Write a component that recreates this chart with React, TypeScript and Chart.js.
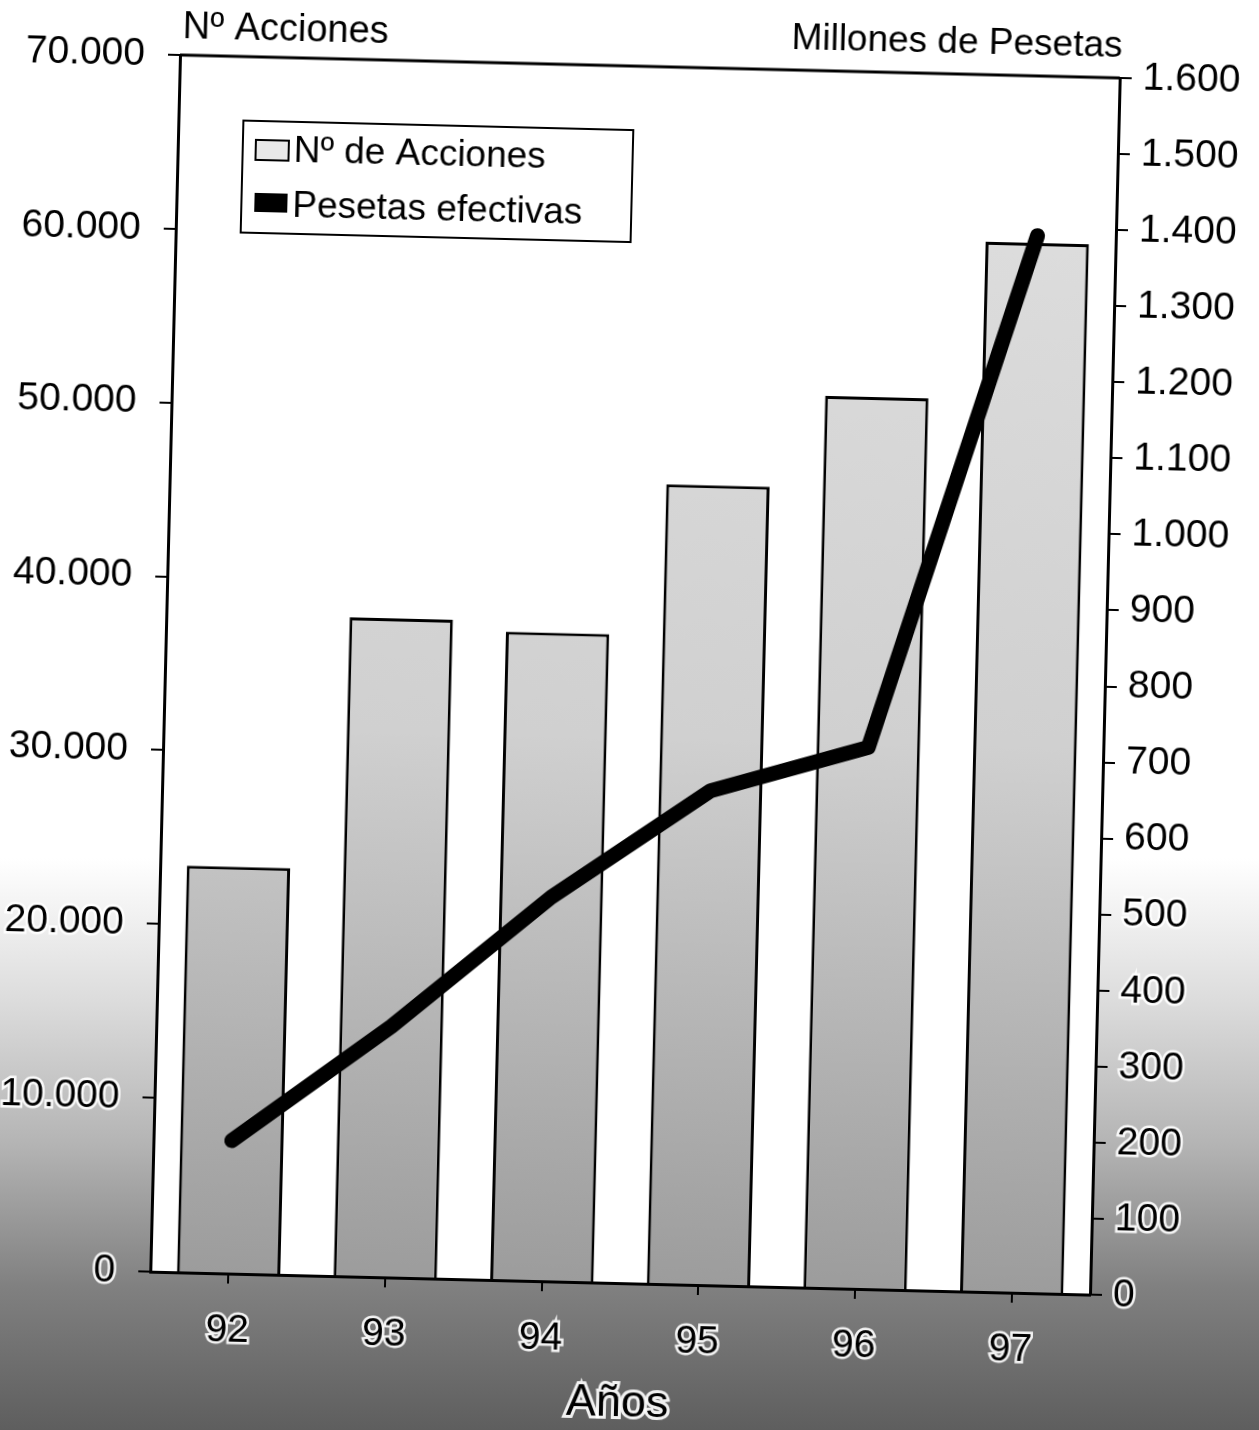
import React, { useEffect, useRef } from "react";
import { Chart, registerables } from "chart.js";

Chart.register(...registerables);

const years = ["92", "93", "94", "95", "96", "97"];
const numAcciones = [23400, 37900, 37300, 46000, 51300, 60400];
const pesetasEfectivas = [175, 330, 505, 650, 712, 1390];
const leftMax = 70000;
const leftStep = 10000;
const rightMax = 1600;
const rightStep = 100;

const leftTitle = "Nº Acciones";
const rightTitle = "Millones de Pesetas";
const xTitle = "Años";
const legendLabels = ["Nº de Acciones", "Pesetas efectivas"];

const FONT = '"Liberation Sans", Arial, Helvetica, sans-serif';

function fmt(v: number): string {
  return String(Math.round(v)).replace(/\B(?=(\d{3})+(?!\d))/g, ".");
}

const decorPlugin = {
  id: "decor",
  beforeDraw(chart: any) {
    const { ctx, chartArea: ca } = chart;
    ctx.save();
    ctx.fillStyle = "#ffffff";
    ctx.fillRect(ca.left, ca.top, ca.right - ca.left, ca.bottom - ca.top);
    ctx.restore();
  },
  afterDraw(chart: any) {
    const { ctx, chartArea: ca } = chart;
    ctx.save();
    // frame top edge
    ctx.strokeStyle = "#000";
    ctx.lineWidth = 3;
    ctx.beginPath();
    ctx.moveTo(ca.left, ca.top);
    ctx.lineTo(ca.right, ca.top);
    ctx.stroke();

    // axis titles
    ctx.fillStyle = "#000";
    ctx.font = `38px ${FONT}`;
    ctx.textBaseline = "middle";
    ctx.textAlign = "left";
    ctx.fillText(leftTitle, 182, 28);
    ctx.font = `37px ${FONT}`;
    ctx.textAlign = "right";
    ctx.fillText(rightTitle, 1122, 24);

    ctx.textAlign = "center";
    ctx.font = `45px ${FONT}`;
    ctx.lineWidth = 6;
    ctx.strokeStyle = "rgba(255,255,255,0.9)";
    ctx.strokeText(xTitle, (ca.left + ca.right) / 2, 1393);
    ctx.fillText(xTitle, (ca.left + ca.right) / 2, 1393);

    // legend
    const bx = 245, by = 119, bw = 390, bh = 112;
    ctx.fillStyle = "#fff";
    ctx.fillRect(bx, by, bw, bh);
    ctx.lineWidth = 2;
    ctx.strokeStyle = "#000";
    ctx.strokeRect(bx, by, bw, bh);

    ctx.fillStyle = "#e8e8e8";
    ctx.fillRect(258, 138, 33, 20);
    ctx.lineWidth = 2;
    ctx.strokeRect(258, 138, 33, 20);
    ctx.fillStyle = "#000";
    ctx.fillRect(258, 191, 33, 19);

    ctx.font = `37px ${FONT}`;
    ctx.textAlign = "left";
    ctx.textBaseline = "middle";
    ctx.fillText(legendLabels[0], 296, 149);
    ctx.fillText(legendLabels[1], 296, 204);
    ctx.restore();
  },
};

export default function App() {
  const ref = useRef<HTMLCanvasElement | null>(null);

  useEffect(() => {
    if (!ref.current) return;
    const chart = new Chart(ref.current, {
      type: "bar",
      data: {
        labels: years,
        datasets: [
          {
            type: "line",
            label: legendLabels[1],
            data: pesetasEfectivas,
            yAxisID: "y1",
            borderColor: "#000",
            backgroundColor: "#000",
            borderWidth: 15,
            pointRadius: 0,
            borderCapStyle: "round",
            borderJoinStyle: "round",
            tension: 0,
            order: 0,
          } as any,
          {
            type: "bar",
            label: legendLabels[0],
            data: numAcciones,
            yAxisID: "y",
            backgroundColor: (c: any) => {
              const ch = c.chart;
              const ca = ch.chartArea;
              if (!ca) return "#d0d0d0";
              const g = ch.ctx.createLinearGradient(0, ca.top, 0, ca.bottom);
              g.addColorStop(0, "#e0e0e0");
              g.addColorStop(0.55, "#d0d0d0");
              g.addColorStop(1, "#9c9c9c");
              return g;
            },
            borderColor: "#000",
            borderWidth: 3,
            borderSkipped: "bottom",
            barPercentage: 0.66,
            categoryPercentage: 1,
            order: 1,
          } as any,
        ],
      },
      options: {
        animation: false,
        responsive: false,
        devicePixelRatio: 1,
        layout: { padding: { top: 55, left: 0, right: 0, bottom: 0 } },
        plugins: {
          legend: { display: false },
          tooltip: { enabled: false },
          title: { display: false },
        },
        scales: {
          x: {
            type: "category",
            offset: true,
            grid: {
              offset: false,
              drawOnChartArea: false,
              drawTicks: true,
              tickLength: 10,
              color: "#000",
              lineWidth: 2,
            },
            border: { display: true, color: "#000", width: 3 },
            ticks: {
              color: "#000",
              font: { family: FONT, size: 39 },
              padding: 24,
              textStrokeColor: "rgba(255,255,255,0.9)",
              textStrokeWidth: 5,
            } as any,
            afterFit: (s: any) => {
              s.height = 158;
            },
          },
          y: {
            type: "linear",
            position: "left",
            min: 0,
            max: leftMax,
            grid: {
              drawOnChartArea: false,
              drawTicks: true,
              tickLength: 12,
              color: "#000",
              lineWidth: 2,
            },
            border: { display: true, color: "#000", width: 3 },
            ticks: {
              stepSize: leftStep,
              color: "#000",
              font: { family: FONT, size: 39 },
              padding: 23,
              callback: (v: any) => fmt(Number(v)),
              textStrokeColor: "rgba(255,255,255,0.9)",
              textStrokeWidth: 5,
            } as any,
            afterFit: (s: any) => {
              s.width = 180;
            },
          },
          y1: {
            type: "linear",
            position: "right",
            min: 0,
            max: rightMax,
            grid: {
              drawOnChartArea: false,
              drawTicks: true,
              tickLength: 12,
              color: "#000",
              lineWidth: 2,
            },
            border: { display: true, color: "#000", width: 3 },
            ticks: {
              stepSize: rightStep,
              color: "#000",
              font: { family: FONT, size: 39 },
              padding: 11,
              callback: (v: any) => fmt(Number(v)),
              textStrokeColor: "rgba(255,255,255,0.9)",
              textStrokeWidth: 5,
            } as any,
            afterFit: (s: any) => {
              s.width = 139;
            },
          },
        },
      } as any,
      plugins: [decorPlugin],
    });
    return () => chart.destroy();
  }, []);

  return (
    <div
      style={{
        position: "absolute",
        left: 0,
        top: 0,
        width: 1259,
        height: 1430,
        overflow: "hidden",
        background:
          "linear-gradient(to bottom, #ffffff 0%, #ffffff 60%, #dcdcdc 70%, #b4b4b4 80%, #808080 90%, #5e5e5e 100%)",
      }}
    >
      <canvas
        ref={ref}
        width={1259}
        height={1430}
        style={{
          display: "block",
          width: 1259,
          height: 1430,
          transform: "rotate(1.4deg)",
          transformOrigin: "180px 55px",
        }}
      />
    </div>
  );
}
